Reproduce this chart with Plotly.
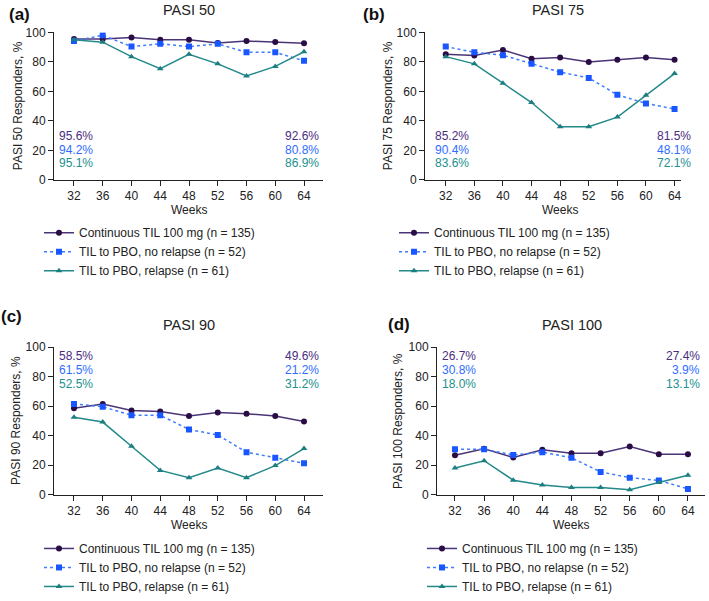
import plotly.graph_objects as go

weeks = [32, 36, 40, 44, 48, 52, 56, 60, 64]
series_names = ["Continuous TIL 100 mg (n = 135)", "TIL to PBO, no relapse (n = 52)", "TIL to PBO, relapse (n = 61)"]

pasi50_cont = [95.6, 95.6, 96.5, 95.1, 95.1, 92.9, 94.2, 93.5, 92.6]
pasi50_norel = [94.2, 98.1, 90.4, 92.3, 90.4, 92.3, 86.5, 86.5, 80.8]
pasi50_rel = [95.1, 93.4, 83.6, 75.4, 85.2, 78.7, 70.5, 77.0, 86.9]

pasi75_cont = [85.2, 84.4, 88.1, 82.2, 83.0, 80.0, 81.5, 83.0, 81.5]
pasi75_norel = [90.4, 86.5, 84.6, 78.8, 73.1, 69.2, 57.7, 51.9, 48.1]
pasi75_rel = [83.6, 78.7, 65.6, 52.5, 36.1, 36.1, 42.6, 57.4, 72.1]

pasi90_cont = [58.5, 61.5, 57.0, 56.3, 53.3, 55.6, 54.8, 53.3, 49.6]
pasi90_norel = [61.5, 59.6, 53.8, 53.8, 44.2, 40.4, 28.8, 25.0, 21.2]
pasi90_rel = [52.5, 49.2, 32.8, 16.4, 11.5, 18.0, 11.5, 19.7, 31.2]

pasi100_cont = [26.7, 31.1, 25.2, 30.4, 28.1, 28.1, 32.6, 27.4, 27.4]
pasi100_norel = [30.8, 30.8, 26.9, 28.8, 25.0, 15.4, 11.5, 9.6, 3.9]
pasi100_rel = [18.0, 23.0, 9.8, 6.6, 4.9, 4.9, 3.3, 8.2, 13.1]

panel_titles = ["PASI 50", "PASI 75", "PASI 90", "PASI 100"]
panel_letters = ["(a)", "(b)", "(c)", "(d)"]
x_title = "Weeks"
start_labels = [["95.6%", "94.2%", "95.1%"], ["85.2%", "90.4%", "83.6%"],
                ["58.5%", "61.5%", "52.5%"], ["26.7%", "30.8%", "18.0%"]]
end_labels = [["92.6%", "80.8%", "86.9%"], ["81.5%", "48.1%", "72.1%"],
              ["49.6%", "21.2%", "31.2%"], ["27.4%", "3.9%", "13.1%"]]

panels = [
    (pasi50_cont, pasi50_norel, pasi50_rel),
    (pasi75_cont, pasi75_norel, pasi75_rel),
    (pasi90_cont, pasi90_norel, pasi90_rel),
    (pasi100_cont, pasi100_norel, pasi100_rel),
]

W, H = 709, 601
FONT = "Liberation Sans, Arial, sans-serif"
TXT = "#222222"

line_cols = ["#4a3478", "#3d7cff", "#23898a"]
mark_cols = ["#2a0d45", "#1a56ff", "#1c7e80"]
text_cols = ["#4b2d80", "#2f6dff", "#22908e"]
symbols = ["circle", "square", "triangle-up"]
dashes = ["solid", "dot", "solid"]

# pixel geometry: (x0, x1, ytop, ybottom, xmin, xmax)
geo = [
    (54, 323, 33, 183, 29.22, 66.64),
    (425, 681, 33, 183, 29.1, 64.9),
    (54, 323, 353, 503, 29.22, 66.64),
    (437, 705, 353, 503, 29.53, 66.34),
]
ann_pos = [  # left x frac, right x frac, y values
    (0.011, 0.993, [30, 20, 11.3]),
    (0.031, 1.047, [30, 20, 11.3]),
    (0.011, 0.993, [94, 84.7, 75.3]),
    (0.011, 0.99, [94, 84.7, 75.3]),
]
legend_pos = [(39, 222), (394, 222), (39, 543), (422, 543)]
letter_pos = [(19, 15), (374, 15), (11, 322), (399, 330)]
title_pos = [(189, 10), (558, 10), (189, 330), (572, 330)]
ytitle_x = [18, 388, 16, 398]
xtitle_y = [214, 214, 534, 534]

fig = go.Figure()
annotations = []
layout = {}
for p in range(4):
    ax = "" if p == 0 else str(p + 1)
    lg = "legend" if p == 0 else "legend" + str(p + 1)
    x0, x1, yt, yb, xmin, xmax = geo[p]
    for s in range(3):
        fig.add_trace(go.Scatter(
            x=weeks, y=panels[p][s], name=series_names[s], mode="lines+markers",
            line=dict(color=line_cols[s], width=1.5, dash=dashes[s]),
            marker=dict(color=mark_cols[s], symbol=symbols[s], size=6),
            xaxis="x" + ax, yaxis="y" + ax, legend=lg, showlegend=True,
        ))
    layout["xaxis" + ax] = dict(
        domain=[x0 / W, x1 / W], range=[xmin, xmax], anchor="y" + ax, automargin=False,
        tickvals=weeks, ticks="outside", ticklen=5, tickcolor=TXT, showline=True,
        linecolor=TXT, linewidth=1, showgrid=False, zeroline=False,
        tickfont=dict(size=12, color=TXT, family=FONT),
    )
    layout["yaxis" + ax] = dict(
        domain=[1 - yb / H, 1 - yt / H], range=[0, 100], anchor="x" + ax, automargin=False,
        tickvals=[0, 20, 40, 60, 80, 100], ticks="outside", ticklen=5, tickcolor=TXT,
        showline=True, linecolor=TXT, linewidth=1, showgrid=False, zeroline=False,
        tickfont=dict(size=12, color=TXT, family=FONT),
    )
    lx, ly = legend_pos[p]
    layout[lg] = dict(
        x=lx / W, y=1 - ly / H, xanchor="left", yanchor="top", bgcolor="rgba(0,0,0,0)",
        font=dict(size=12, color=TXT, family=FONT), tracegroupgap=0, itemwidth=30,
    )
    lfx, rfx, ys = ann_pos[p]
    for s in range(3):
        annotations.append(dict(
            text=start_labels[p][s], x=lfx, y=ys[s], xref="x" + ax + " domain", yref="y" + ax,
            xanchor="left", yanchor="middle", showarrow=False,
            font=dict(size=12, color=text_cols[s], family=FONT)))
        annotations.append(dict(
            text=end_labels[p][s], x=rfx, y=ys[s], xref="x" + ax + " domain", yref="y" + ax,
            xanchor="right", yanchor="middle", showarrow=False,
            font=dict(size=12, color=text_cols[s], family=FONT)))
    # axis titles
    annotations.append(dict(
        text=panel_titles[p] + " Responders, %", x=ytitle_x[p] / W, y=1 - (yt + yb) / 2 / H,
        xref="paper", yref="paper", xanchor="center", yanchor="middle", textangle=-90,
        showarrow=False, font=dict(size=12, color=TXT, family=FONT)))
    annotations.append(dict(
        text=x_title, x=(weeks[0] + weeks[-1]) / 2, y=1 - xtitle_y[p] / H,
        xref="x" + ax, yref="paper", xanchor="center", yanchor="middle",
        showarrow=False, font=dict(size=12, color=TXT, family=FONT)))
    tx, ty = title_pos[p]
    annotations.append(dict(text=panel_titles[p], x=tx / W, y=1 - ty / H, xref="paper", yref="paper",
                            xanchor="center", yanchor="middle", showarrow=False,
                            font=dict(size=14.5, color=TXT, family=FONT)))
    cx, cy = letter_pos[p]
    annotations.append(dict(text="<b>" + panel_letters[p] + "</b>", x=cx / W, y=1 - cy / H,
                            xref="paper", yref="paper", xanchor="center", yanchor="middle",
                            showarrow=False, font=dict(size=17, color="#111111", family=FONT)))

fig.update_layout(
    width=W, height=H, margin=dict(l=0, r=0, t=0, b=0),
    paper_bgcolor="white", plot_bgcolor="white",
    font=dict(family=FONT, color=TXT),
    annotations=annotations, **layout,
)
fig.write_html(
    "out.html", config={"displayModeBar": False},
    post_script=("document.body.style.margin='0';document.body.style.overflow='hidden';"
                 "document.documentElement.style.overflow='hidden';"),
)
